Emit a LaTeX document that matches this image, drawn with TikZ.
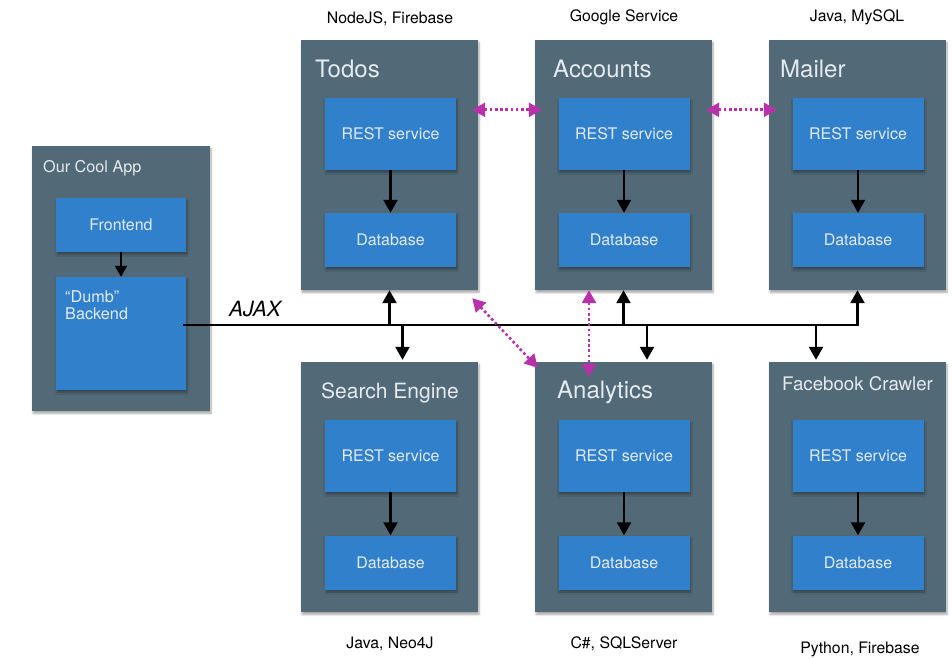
\documentclass[tikz,border=0pt]{standalone}
\usepackage{fontspec}
\setmainfont{TeX Gyre Heros}
\usetikzlibrary{arrows.meta,shadows.blur,calc}
\definecolor{slate}{HTML}{526A78}
\definecolor{svcblue}{HTML}{3080CC}
\definecolor{linkmag}{HTML}{BA30AA}
\definecolor{paletext}{HTML}{E4EAEE}
\begin{document}
\begin{tikzpicture}[x=1pt,y=-1pt,
  boxshadow/.style={blur shadow={shadow xshift=1pt,shadow yshift=-2.5pt,shadow blur steps=6,shadow opacity=35}},
  outerbox/.style={fill=slate,minimum width=177pt,minimum height=250pt,inner sep=0pt,boxshadow},
  appbox/.style={fill=slate,minimum width=178pt,minimum height=265pt,inner sep=0pt,boxshadow},
  innerbox/.style={fill=svcblue,minimum width=131pt,inner sep=0pt,text=paletext,
    font=\fontsize{16}{19}\selectfont,boxshadow},
  restbox/.style={innerbox,minimum height=72pt},
  dbbox/.style={innerbox,minimum height=54pt},
  titletext/.style={anchor=base west,inner sep=0pt,text=paletext,font=\fontsize{24}{28}\selectfont},
  techtext/.style={anchor=base,inner sep=0pt,font=\fontsize{15.8}{18}\selectfont},
  flow/.style={line width=2.3pt,-{Triangle[width=14pt,length=13pt]}},
  peer/.style={line width=2.6pt,linkmag,dash pattern=on 2.6pt off 2.6pt,
    {Triangle[width=14pt,length=13pt]}-{Triangle[width=14pt,length=13pt]}},
]
\useasboundingbox (0,0) rectangle (952,658);

% --- client application ---
\node[appbox] (app) at (121,278.5) {};
\node[anchor=base west,inner sep=0pt,text=paletext,font=\fontsize{16.2}{19}\selectfont] (appT) at (43,172) {Our Cool App};
\node[innerbox,minimum width=130pt,minimum height=54pt] (front) at (121,225) {Frontend};
\node[innerbox,minimum width=130pt,minimum height=113pt] (back) at (121,333.5) {};
\node[anchor=north west,inner sep=0pt,text=paletext,align=left,font=\fontsize{16.2}{17.5}\selectfont] (backT) at (65,290) {“Dumb”\\Backend};
\draw[flow,-{Triangle[width=12pt,length=11pt]}] (front) -- (back);

% --- services, top row ---
\node[outerbox] (todos) at (389.5,165) {};
\node[outerbox] (accounts) at (623.5,165) {};
\node[outerbox] (mailer) at (857.5,165) {};
\node[titletext] (todosT) at (315,78) {Todos};
\node[titletext] (accountsT) at (553,78) {Accounts};
\node[titletext] (mailerT) at (780,78) {Mailer};
\node[restbox] (todosR) at (390.5,134) {REST service};
\node[restbox] (accountsR) at (624,134) {REST service};
\node[restbox] (mailerR) at (858,134) {REST service};
\node[dbbox] (todosD) at (390.5,240) {Database};
\node[dbbox] (accountsD) at (624,240) {Database};
\node[dbbox] (mailerD) at (858,240) {Database};

% --- services, bottom row ---
\node[outerbox] (search) at (389.5,487) {};
\node[outerbox] (analytics) at (623.5,487) {};
\node[outerbox] (crawler) at (857.5,487) {};
\node[titletext,font=\fontsize{21}{25}\selectfont] (searchT) at (321,398) {Search Engine};
\node[titletext] (analyticsT) at (557,398) {Analytics};
\node[titletext,font=\fontsize{18.7}{22}\selectfont] (crawlerT) at (782,390) {Facebook Crawler};
\node[restbox] (searchR) at (390.5,456) {REST service};
\node[restbox] (analyticsR) at (624,456) {REST service};
\node[restbox] (crawlerR) at (858,456) {REST service};
\node[dbbox] (searchD) at (390.5,562.5) {Database};
\node[dbbox] (analyticsD) at (624,562.5) {Database};
\node[dbbox] (crawlerD) at (858,562.5) {Database};

% --- technology labels ---
\node[techtext] (todosTech) at (390,24) {NodeJS, Firebase};
\node[techtext] (accountsTech) at (624,22) {Google Service};
\node[techtext] (mailerTech) at (857,22) {Java, MySQL};
\node[techtext] (searchTech) at (390,648) {Java, Neo4J};
\node[techtext] (analyticsTech) at (624,648) {C\#, SQLServer};
\node[techtext] (crawlerTech) at (860,653) {Python, Firebase};

% --- REST service to its database ---
\foreach \s in {todos,accounts,mailer,search,analytics,crawler}
  \draw[flow] (\s R) -- (\s D);

% --- AJAX bus ---
\coordinate (busstart) at (183,325);
\node[anchor=base west,inner sep=0pt,font=\itshape\fontsize{21}{24}\selectfont] (ajax) at (229,316) {AJAX};
\draw[flow] (busstart) -| (mailer.south);
\draw[flow] (todos.south |- busstart) -- (todos.south);
\draw[flow] (accounts.south |- busstart) -- (accounts.south);
\draw[flow,shorten >=2pt] ([xshift=13pt]search.north |- busstart) -- ([xshift=13pt]search.north);
\draw[flow,shorten >=2pt] ([xshift=23.5pt]analytics.north |- busstart) -- ([xshift=23.5pt]analytics.north);
\draw[flow,shorten >=2pt] ([xshift=-41.5pt]crawler.north |- busstart) -- ([xshift=-41.5pt]crawler.north);

% --- service to service links ---
\draw[peer] ($(todos.north east)+(-6,70)$) -- ($(accounts.north west)+(7,70)$);
\draw[peer] ($(accounts.north east)+(-6,70)$) -- ($(mailer.north west)+(8,70)$);
\draw[peer] ($(todos.south east)+(-6,8)$) -- ($(analytics.north west)+(3,6)$);
\draw[peer] ($(accounts.south)+(-34.5,0)$) -- ($(analytics.north)+(-34.5,15)$);
\end{tikzpicture}
\end{document}
